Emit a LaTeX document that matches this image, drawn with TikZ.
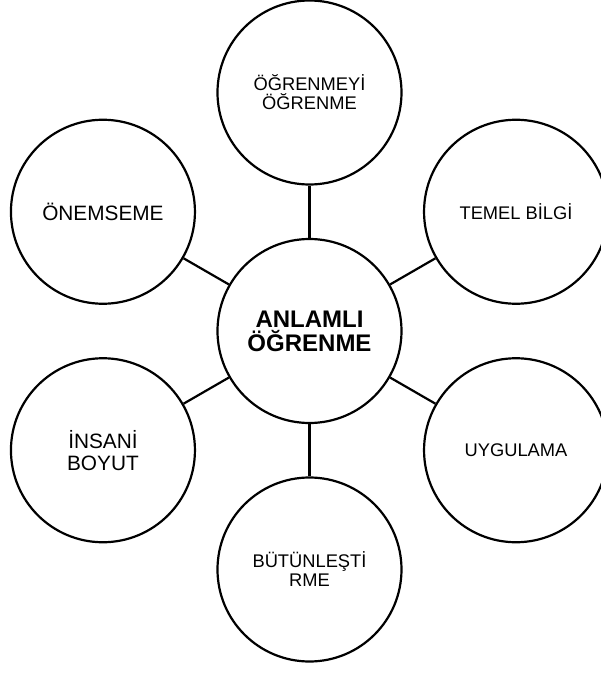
\documentclass[tikz,border=0pt]{standalone}
\usepackage{fontspec}
\setsansfont{Liberation Sans}
\usetikzlibrary{positioning}
\definecolor{lineBlack}{RGB}{0, 0, 0}
\tikzset{
    base/.style={draw=lineBlack, line width=2.2pt, circle, fill=white, align=center, inner sep=0pt, minimum size=184pt},
    hub/.style={base, font=\sffamily\bfseries\fontsize{24}{24}\selectfont},
    topic/.style={base, font=\sffamily\fontsize{18.3}{19}\selectfont},
    topicLarge/.style={base, font=\sffamily\fontsize{20.8}{22}\selectfont},
    link/.style={draw=lineBlack, line width=2.2pt}
}

\begin{document}
\begin{tikzpicture}
    \useasboundingbox (-309.5pt,331pt) rectangle (291.5pt,-342pt);
    \clip (-309.5pt,331pt) rectangle (291.5pt,-342pt);

    % --- CENTRE ---
    \node[hub] (anlamli) at (0,0) {ANLAMLI\\ÖĞRENME};

    % --- SURROUNDING TOPICS ---
    \node[topic] (ogrenmeyi) at (90:238.5pt) {ÖĞRENMEYİ\\ÖĞRENME};
    \node[topic] (temel) at (30:238.5pt) {TEMEL BİLGİ};
    \node[topic] (uygulama) at (-30:238.5pt) {UYGULAMA};
    \node[topic] (butunlestirme) at (-90:238.5pt) {BÜTÜNLEŞTİ\\RME};
    \node[topicLarge] (insani) at (210:238.5pt) {İNSANİ\\BOYUT};
    \node[topicLarge] (onemseme) at (150:238.5pt) {ÖNEMSEME};

    % --- LINKS ---
    \draw[link] (anlamli) -- (ogrenmeyi);
    \draw[link] (anlamli) -- (temel);
    \draw[link] (anlamli) -- (uygulama);
    \draw[link] (anlamli) -- (butunlestirme);
    \draw[link] (anlamli) -- (insani);
    \draw[link] (anlamli) -- (onemseme);
\end{tikzpicture}
\end{document}
